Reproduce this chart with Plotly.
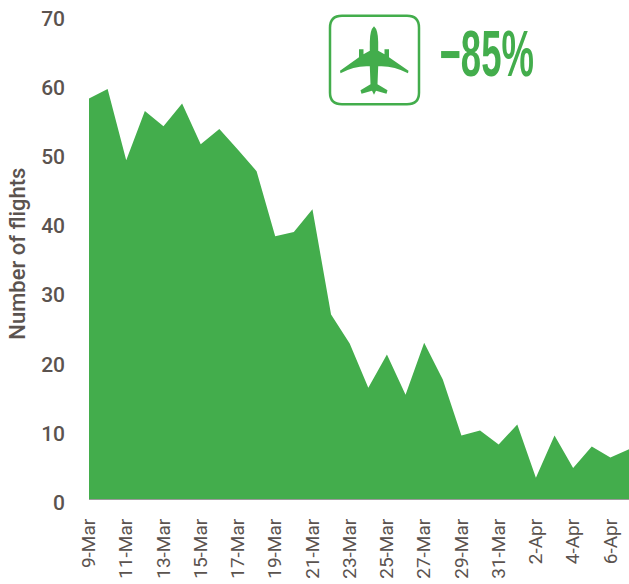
import plotly.graph_objects as go

days = ["9-Mar","10-Mar","11-Mar","12-Mar","13-Mar","14-Mar","15-Mar","16-Mar","17-Mar","18-Mar",
        "19-Mar","20-Mar","21-Mar","22-Mar","23-Mar","24-Mar","25-Mar","26-Mar","27-Mar","28-Mar",
        "29-Mar","30-Mar","31-Mar","1-Apr","2-Apr","3-Apr","4-Apr","5-Apr","6-Apr","7-Apr"]
flights = [57.9,59.3,49.0,56.1,53.9,57.2,51.3,53.5,50.5,47.4,
           38.0,38.6,41.9,26.7,22.5,16.1,20.9,15.1,22.6,17.3,
           9.2,9.9,7.9,10.8,3.1,9.2,4.5,7.6,6.0,7.2]
y_ticks = [0,10,20,30,40,50,60,70]
x_ticks = days[::2]

GREEN = "#43ad4c"
TEXT = "#5b534f"
W, H = 629, 584
UNIT = 6.92
BASE = 499.5
L, R, T, B = 89, 629, BASE - 71*UNIT, BASE + UNIT

def px(x, y):
    return f"{(x-L)/(R-L):.5f},{(B-y)/(B-T):.5f}"

box = (f"M{px(342,16)} L{px(407,16)} Q{px(419,16)} {px(419,28)} L{px(419,93)} Q{px(419,104.5)} {px(407,104.5)} "
       f"L{px(342,104.5)} Q{px(330,104.5)} {px(330,93)} L{px(330,28)} Q{px(330,16)} {px(342,16)} Z")
plane = (f"M{px(374,26.5)} Q{px(370,30)} {px(369.8,42)} L{px(369.8,51)} L{px(363.5,54.5)} L{px(363.5,49.5)} "
         f"L{px(359,49.5)} L{px(359,57.5)} L{px(340,71)} L{px(340.5,73.5)} Q{px(355,65.5)} {px(369.8,66.5)} "
         f"L{px(370.5,84.5)} L{px(360.5,90.5)} L{px(361.5,94)} L{px(372,91)} L{px(374,95)} L{px(376,91)} "
         f"L{px(386.5,94)} L{px(387.5,90.5)} L{px(377.5,84.5)} L{px(378.2,66.5)} Q{px(393,65.5)} {px(408,73.5)} "
         f"L{px(408.5,71)} L{px(389,57.5)} L{px(389,49.5)} L{px(384.5,49.5)} L{px(384.5,54.5)} L{px(378.2,51)} "
         f"L{px(378.2,42)} Q{px(378,30)} {px(374,26.5)} Z")

fig = go.Figure()
fig.add_trace(go.Scatter(x=days, y=[None]*len(days), yaxis="y", showlegend=False, hoverinfo="skip"))
fig.add_trace(go.Scatter(x=days, y=flights, yaxis="y2", mode="lines", line=dict(width=0, color=GREEN),
                         fill="tozeroy", fillcolor=GREEN, showlegend=False))

fig.update_layout(
    width=W, height=H, autosize=False,
    margin=dict(l=L, r=W-R, t=T, b=H-B, pad=0),
    paper_bgcolor="white", plot_bgcolor="white",
    font=dict(family="Roboto", color=TEXT),
    xaxis=dict(categoryorder="array", categoryarray=days, tickmode="array", tickvals=x_ticks, ticktext=x_ticks,
               range=[0, len(days)-1], tickangle=-90, ticks="", ticklabelstandoff=8,
               tickfont=dict(size=19, family="Roboto", color=TEXT), showgrid=False, showline=False),
    yaxis=dict(range=[-0.5, 71.5], tickmode="array", tickvals=y_ticks, ticks="", showgrid=False, zeroline=False,
               tickfont=dict(size=21, family="Roboto", weight=500, color=TEXT), ticklabelstandoff=23),
    yaxis2=dict(range=[-1, 71], overlaying="y", showticklabels=False, ticks="", showgrid=False,
                zeroline=True, zerolinecolor="#9a9a9a", zerolinewidth=1),
    shapes=[
        dict(type="path", xref="paper", yref="paper", path=box, line=dict(color=GREEN, width=2.5)),
        dict(type="path", xref="paper", yref="paper", path=plane, fillcolor=GREEN, line=dict(width=0)),
    ],
    annotations=[
        dict(text="−85%", xref="paper", yref="paper", x=(486.5-L)/(R-L), y=(B-54)/(B-T), xanchor="center", yanchor="middle",
             showarrow=False, font=dict(size=64, family="Liberation Sans", weight="bold", color=GREEN)),
        dict(text="Number of flights", xref="paper", yref="paper", x=(18-L)/(R-L), y=(B-254)/(B-T), textangle=-90,
             xanchor="center", yanchor="middle", showarrow=False, font=dict(size=22, family="Roboto", weight=500, color=TEXT)),
    ],
)
post = """
document.body.style.margin='0';
document.querySelectorAll('.annotation-text').forEach(function(t){
  if (t.textContent.indexOf('85') >= 0) {
    t.style.transformBox='fill-box'; t.style.transformOrigin='center'; t.style.transform='scaleX(0.57)';
  }
});
"""
fig.write_html("out.html", post_script=post, default_width="629px", default_height="584px",
               config={"displayModeBar": False})
